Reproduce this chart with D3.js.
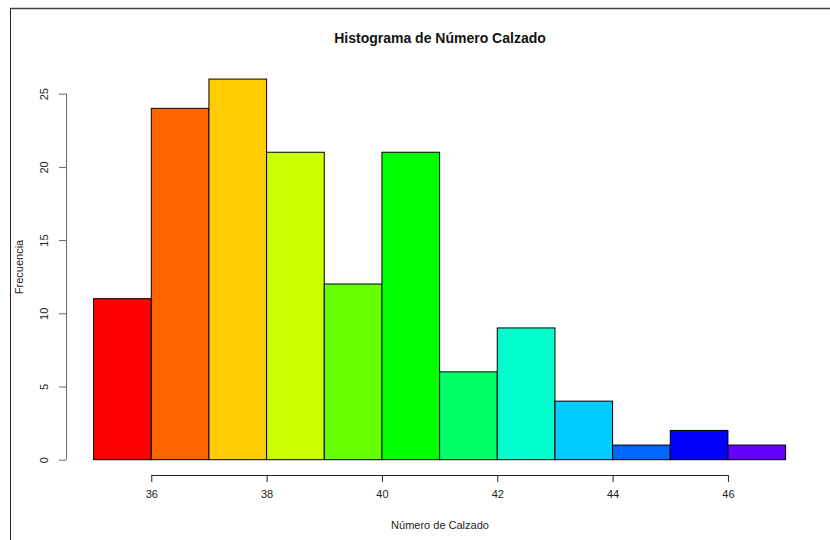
<!DOCTYPE html>
<html><head><meta charset="utf-8">
<script src="https://cdn.jsdelivr.net/npm/d3@7"></script>
<style>body{margin:0;background:#fff}svg{display:block}text{font-family:"Liberation Sans",Arial,sans-serif}</style>
</head><body>
<svg id="c" width="830" height="540"></svg>
<script>
const binStarts = [35,36,37,38,39,40,41,42,43,44,45,46];
const counts = [11,24,26,21,12,21,6,9,4,1,2,1];
const colors = ["#FF0000","#FF6600","#FFCC00","#CCFF00","#66FF00","#00FF00","#00FF66","#00FFCC","#00CCFF","#0066FF","#0000FF","#6600FF"];
const xTicks = [36,38,40,42,44,46];
const yTicks = [0,5,10,15,20,25];
const title = "Histograma de Número Calzado";
const xLabel = "Número de Calzado";
const yLabel = "Frecuencia";

const svg = d3.select("#c");
const x = d3.scaleLinear().domain([35,47]).range([93.6,785.6]);
const y = d3.scaleLinear().domain([0,25]).range([459.7,93.7]);

// frame
svg.append("line").attr("x1",10).attr("x2",830).attr("y1",8.5).attr("y2",8.5).attr("stroke","#444").attr("stroke-width",1.5);
svg.append("line").attr("x1",10.5).attr("x2",10.5).attr("y1",8).attr("y2",540).attr("stroke","#222").attr("stroke-width",1);

svg.selectAll("rect.bar").data(counts).enter().append("rect").attr("class","bar")
  .attr("x",(d,i)=>x(binStarts[i]))
  .attr("width",(d,i)=>x(binStarts[i]+1)-x(binStarts[i]))
  .attr("y",d=>y(d))
  .attr("height",d=>y(0)-y(d))
  .attr("fill",(d,i)=>colors[i])
  .attr("stroke","#000").attr("stroke-width",1);

// x axis
const xa = svg.append("g").attr("transform","translate(0,475)")
  .call(d3.axisBottom(x).tickValues(xTicks).tickSize(7).tickSizeOuter(0).tickPadding(8).tickFormat(d3.format("d")));
xa.select(".domain").remove();
xa.append("line").attr("x1",x(xTicks[0])).attr("x2",x(xTicks[xTicks.length-1])).attr("y1",0.5).attr("y2",0.5).attr("stroke","#222");
xa.selectAll(".tick line").attr("stroke","#222");
xa.selectAll("text").attr("font-size","11px").attr("fill","#222");

// y axis
const ya = svg.append("g").attr("transform","translate(66,0)")
  .call(d3.axisLeft(y).tickValues(yTicks).tickSize(7).tickSizeOuter(0).tickFormat(d3.format("d")));
ya.select(".domain").remove();
ya.append("line").attr("x1",0.5).attr("x2",0.5).attr("y1",y(yTicks[0])).attr("y2",y(yTicks[yTicks.length-1])).attr("stroke","#666");
ya.selectAll(".tick line").attr("stroke","#666");
ya.selectAll(".tick text").attr("font-size","11px").attr("fill","#222")
  .attr("x",null).attr("dy",null).attr("text-anchor","middle")
  .attr("transform","translate(-22,0) rotate(-90)").attr("dy","0.35em");

svg.append("text").attr("x",440).attr("y",43).attr("text-anchor","middle")
  .attr("font-size","14px").attr("font-weight","bold").attr("fill","#111").text(title);
svg.append("text").attr("x",440).attr("y",529).attr("text-anchor","middle")
  .attr("font-size","11px").attr("fill","#222").text(xLabel);
svg.append("text").attr("transform","translate(23,267) rotate(-90)").attr("text-anchor","middle")
  .attr("font-size","11px").attr("fill","#222").text(yLabel);
</script>
</body></html>
